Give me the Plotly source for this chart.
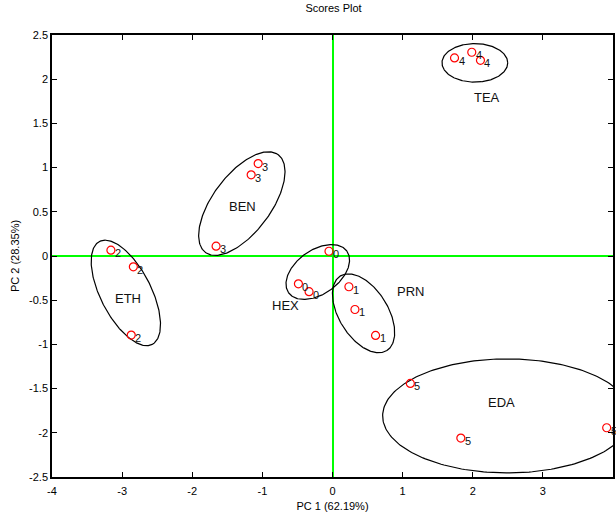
import numpy as np
import plotly.graph_objects as go

# ---- sample scores (PC1, PC2) per solvent group ----
groups = ["ETH", "BEN", "HEX", "PRN", "TEA", "EDA"]
group_ids = ["2", "3", "0", "1", "4", "5"]

eth_x = [-3.16, -2.84, -2.87]
eth_y = [0.066, -0.122, -0.895]
ben_x = [-1.06, -1.16, -1.66]
ben_y = [1.046, 0.918, 0.111]
hex_x = [-0.05, -0.486, -0.334]
hex_y = [0.054, -0.315, -0.404]
prn_x = [0.234, 0.320, 0.614]
prn_y = [-0.348, -0.605, -0.899]
tea_x = [1.74, 1.986, 2.11]
tea_y = [2.241, 2.305, 2.214]
eda_x = [1.11, 1.83, 3.91]
eda_y = [-1.442, -2.060, -1.943]

# ---- group ellipses: centre, first and second conjugate semi-axis vectors ----
ell_cx = [-2.947, -1.293, -0.210, 0.443, 2.03, 2.49]
ell_cy = [-0.418, 0.593, -0.181, -0.648, 2.185, -1.809]
ell_ux = [0.376, 0.520, 0.416, 0.333, 0.469, 1.775]
ell_uy = [-0.582, 0.552, 0.235, -0.421, 0.0, 0.0]
ell_vx = [-0.321, 0.330, 0.180, -0.294, 0.0, 0.0]
ell_vy = [-0.131, -0.197, -0.203, -0.149, 0.218, 0.645]

# ---- group name positions ----
lab_x = [-2.923, -1.281, -0.675, 1.115, 2.21, 2.412]
lab_y = [-0.481, 0.563, -0.560, -0.401, 1.789, -1.653]

# ---- axis ticks ----
x_ticks = [-4, -3, -2, -1, 0, 1, 2, 3, 4]
x_tick_text = ["-4", "-3", "-2", "-1", "0", "1", "2", "3", "4"]
y_ticks = [-2.5, -2, -1.5, -1, -0.5, 0, 0.5, 1, 1.5, 2, 2.5]
y_tick_text = ["-2.5", "-2", "-1.5", "-1", "-0.5", "0", "0.5", "1", "1.5", "2", "2.5"]

xs = [eth_x, ben_x, hex_x, prn_x, tea_x, eda_x]
ys = [eth_y, ben_y, hex_y, prn_y, tea_y, eda_y]

FONT = "Liberation Sans, Arial, Helvetica, sans-serif"

fig = go.Figure()

t = np.linspace(0, 2 * np.pi, 240)
for i in range(len(groups)):
    ex = ell_cx[i] + ell_ux[i] * np.cos(t) + ell_vx[i] * np.sin(t)
    ey = ell_cy[i] + ell_uy[i] * np.cos(t) + ell_vy[i] * np.sin(t)
    fig.add_trace(go.Scatter(x=ex, y=ey, mode="lines",
                             line=dict(color="black", width=1.2),
                             hoverinfo="skip", showlegend=False))

for i in range(len(groups)):
    fig.add_trace(go.Scatter(x=xs[i], y=ys[i], mode="markers",
                             marker=dict(symbol="circle-open", size=8,
                                         color="red", line=dict(width=1.2, color="red")),
                             name=groups[i], showlegend=False))
    for px, py in zip(xs[i], ys[i]):
        fig.add_annotation(x=px, y=py, text=group_ids[i], showarrow=False,
                           xanchor="left", yanchor="middle", xshift=2, yshift=-3,
                           font=dict(family=FONT, size=11, color="#111111"))
    fig.add_annotation(x=lab_x[i], y=lab_y[i], text=groups[i], showarrow=False,
                       xanchor="center", yanchor="middle",
                       font=dict(family=FONT, size=13, color="#111111"))

axis_common = dict(showgrid=False, showline=True, linecolor="black", linewidth=1.5,
                   mirror="ticks", ticks="inside", ticklen=5, tickcolor="black",
                   tickwidth=1, zeroline=True, zerolinecolor="#00ff00", zerolinewidth=1.5,
                   tickfont=dict(family=FONT, size=11, color="black"))

fig.update_xaxes(range=[-4, 4], tickvals=x_ticks, ticktext=x_tick_text,
                 ticklabelstandoff=3,
                 title=dict(text="PC 1 (62.19%)", standoff=6,
                            font=dict(family=FONT, size=11, color="black")),
                 **axis_common)
fig.update_yaxes(range=[-2.5, 2.5], tickvals=y_ticks, ticktext=y_tick_text,
                 title=dict(text="PC 2 (28.35%)", standoff=7,
                            font=dict(family=FONT, size=11, color="black")),
                 **axis_common)

fig.update_layout(
    width=616, height=512,
    margin=dict(l=52, r=1, t=35, b=35),
    paper_bgcolor="white", plot_bgcolor="white",
    title=dict(text="Scores Plot", x=(52 + 615) / 2 / 616, xanchor="center",
               y=1 - 8 / 512, yanchor="middle", yref="container",
               font=dict(family=FONT, size=11, color="black")),
)

fig.write_html("out.html")
